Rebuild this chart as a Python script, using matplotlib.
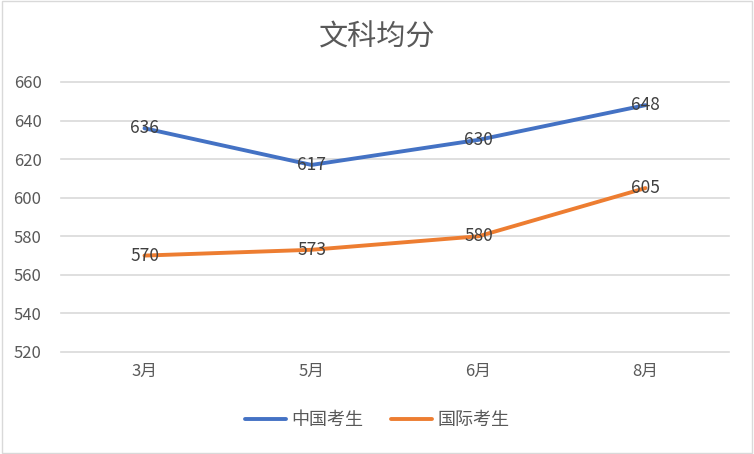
import matplotlib
matplotlib.use("Agg")
import matplotlib.pyplot as plt
from matplotlib.patches import Rectangle

plt.rcParams["font.family"] = ["Noto Sans CJK SC", "DejaVu Sans"]

months = ["3月", "5月", "6月", "8月"]
china = [636, 617, 630, 648]
intl = [570, 573, 580, 605]
series_names = ["中国考生", "国际考生"]
yticks = [520, 540, 560, 580, 600, 620, 640, 660]

fig = plt.figure(figsize=(7.54, 4.54), dpi=100)
ax = fig.add_axes([61 / 754, 1 - 352 / 454, (729 - 61) / 754, 270 / 454])

x = range(len(months))
colors = ["#4472C4", "#ED7D31"]
for vals, name, c in zip([china, intl], series_names, colors):
    ax.plot(x, vals, color=c, lw=2.8, label=name, solid_capstyle="round", zorder=3)
    for xi, v in zip(x, vals):
        ax.text(xi, v, str(v), ha="center", va="center", fontsize=12.5,
                color="#404040", zorder=4)

ax.set_xlim(-0.5, len(months) - 0.5)
ax.set_ylim(520, 660)
ax.set_yticks(yticks)
ax.set_xticks(list(x))
ax.set_xticklabels(months)
ax.grid(axis="y", color="#D9D9D9", lw=1.2)
for gl in ax.get_ygridlines():
    gl.set_clip_on(False)
ax.set_axisbelow(True)
for s in ax.spines.values():
    s.set_visible(False)
ax.tick_params(length=0, labelsize=12, colors="#595959")
ax.tick_params(axis="y", pad=14)
ax.tick_params(axis="x", pad=8)

fig.text(0.5, 1 - 37 / 454, "文科均分", ha="center", va="center",
         fontsize=21, color="#595959")

fig.legend(loc="center", bbox_to_anchor=(0.5, 1 - 420 / 454), ncol=2,
           frameon=False, fontsize=13, handlelength=2.3, columnspacing=1.5,
           handletextpad=0.3, labelcolor="#595959")

fig.patches.append(Rectangle((0.002, 0.002), 0.996, 0.996, transform=fig.transFigure,
                             fill=False, edgecolor="#D9D9D9", lw=1))

fig.savefig("out.png", dpi=100)
